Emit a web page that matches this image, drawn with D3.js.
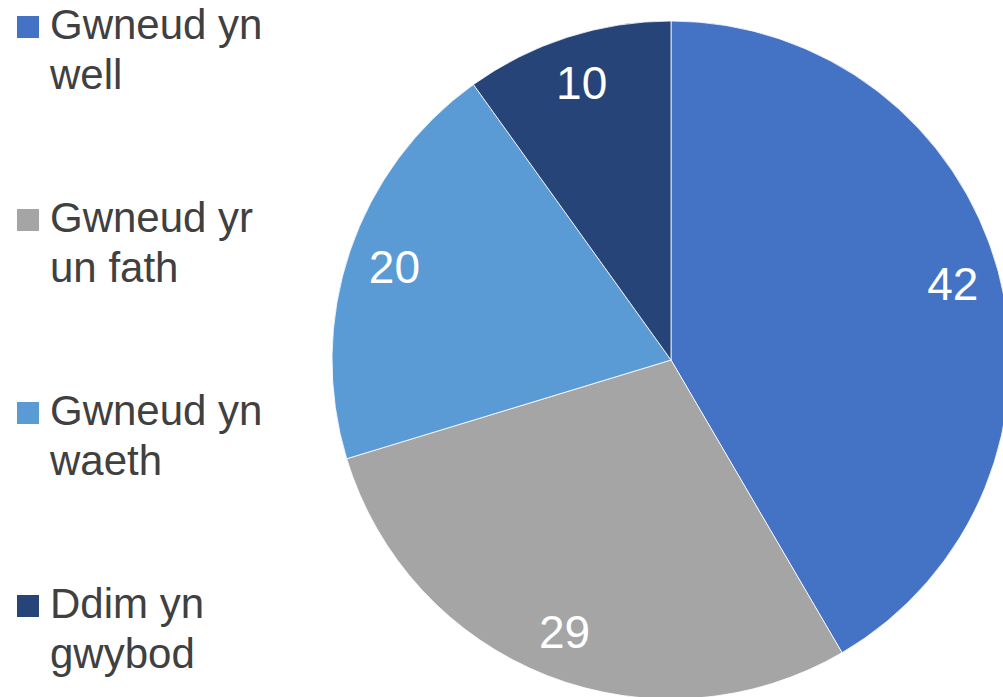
<!DOCTYPE html>
<html>
<head>
<meta charset="utf-8">
<script src="https://cdn.jsdelivr.net/npm/d3@7"></script>
<style>
  html, body { margin: 0; padding: 0; background: #fff; overflow: hidden; }
  svg { display: block; }
  text { font-family: "Liberation Sans", Arial, sans-serif; }
</style>
</head>
<body>
<svg id="chart" width="1003" height="697"></svg>
<script>
const categories = [["Gwneud yn", "well"], ["Gwneud yr", "un fath"], ["Gwneud yn", "waeth"], ["Ddim yn", "gwybod"]];
const values = [42, 29, 20, 10];
const colors = ["#4472C4", "#A5A5A5", "#5B9BD5", "#264478"];

const svg = d3.select("#chart");
const cx = 671, cy = 360, r = 339;

const pie = d3.pie().sort(null).value(d => d);
const arcs = pie(values);
const arc = d3.arc().innerRadius(0).outerRadius(r);
const labelArc = d3.arc().innerRadius(292).outerRadius(292);

const g = svg.append("g").attr("transform", `translate(${cx},${cy})`);
g.selectAll("path").data(arcs).join("path")
  .attr("d", arc)
  .attr("fill", (d, i) => colors[i])
  .attr("stroke", "#ffffff")
  .attr("stroke-width", 0.8);

g.selectAll("text.lbl").data(arcs).join("text")
  .attr("class", "lbl")
  .attr("transform", d => `translate(${labelArc.centroid(d)})`)
  .attr("text-anchor", "middle")
  .attr("dy", "0.36em")
  .attr("fill", "#ffffff")
  .attr("font-size", 46)
  .text(d => d.data);

const legend = svg.append("g");
const legendY = d3.scalePoint().domain(d3.range(categories.length)).range([39, 618]);
const item = legend.selectAll("g").data(categories).join("g")
  .attr("transform", (d, i) => `translate(0,${legendY(i)})`);
item.append("rect")
  .attr("x", 17).attr("y", -23).attr("width", 22).attr("height", 22)
  .attr("fill", (d, i) => colors[i]);
item.append("text")
  .attr("x", 50).attr("y", 0)
  .attr("font-size", 42)
  .attr("fill", "#404040")
  .selectAll("tspan").data(d => d).join("tspan")
  .attr("x", 50)
  .attr("dy", (d, j) => j === 0 ? 0 : 50)
  .text(d => d);
</script>
</body>
</html>
